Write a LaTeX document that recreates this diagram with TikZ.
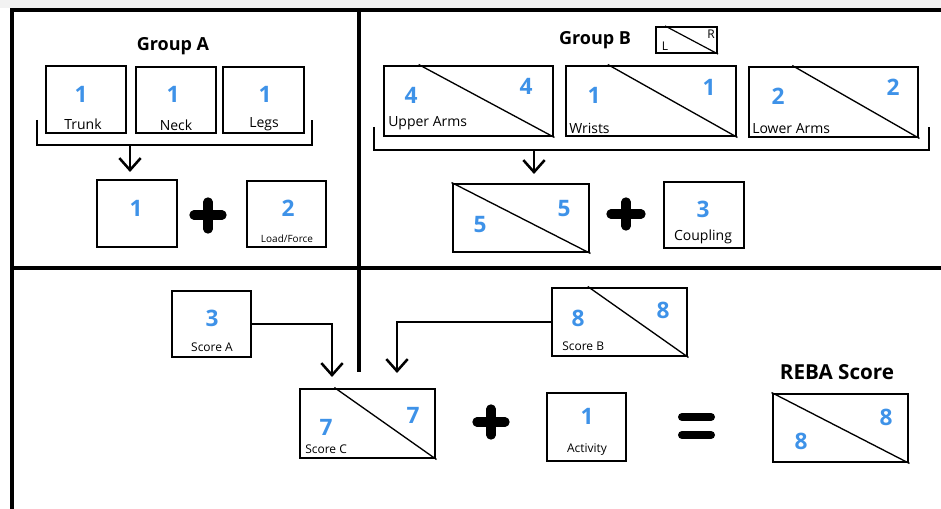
\documentclass[tikz,border=0pt]{standalone}
\usepackage{fontspec}
\setmainfont{Open Sans}
\usetikzlibrary{arrows.meta,fit,calc}
\definecolor{numblue}{RGB}{62,146,232}
\begin{document}
\begin{tikzpicture}[x=0.75pt,y=-0.75pt,
  box/.style={draw, line width=2.2pt, inner sep=0pt},
  num/.style={text=numblue, font=\fontsize{17}{17}\selectfont\bfseries, inner sep=0pt},
  lbl/.style={font=\fontsize{10.5}{11}\selectfont, inner sep=0pt},
  slbl/.style={font=\fontsize{9}{9}\selectfont, inner sep=0pt},
  tlbl/.style={font=\fontsize{7.5}{8}\selectfont, inner sep=0pt},
  title/.style={font=\fontsize{13.5}{14}\selectfont\bfseries, inner sep=0pt},
  diag/.style={line width=1pt},
  frameline/.style={line width=3.2pt},
  bracket/.style={line width=2.2pt},
  conn/.style={line width=1.9pt, -{Straight Barb[length=9pt,width=16pt]}},
  plussign/.style={line width=7pt, line cap=round}]
\path[use as bounding box] (0,0) rectangle (941,509);
\fill[gray!10] (0,0) rectangle (941,8);
% frame
\draw[frameline] (12,509) -- (12,10) -- (941,10);
\draw[frameline] (12,268) -- (941,268);
\draw[frameline] (359,10) -- (359,372);

% ---------- Group A ----------
\node[title] (ga) at (173,46) {Group A};
\node[box, fit={(46,66) (126,133)}] (trunk) {};
\node[box, fit={(136,67) (216,133)}] (neck) {};
\node[box, fit={(223,67) (304,133)}] (legs) {};
\node[num] (trunkn) at (81,94) {1};
\node[lbl] (trunkl) at (83,124) {Trunk};
\node[num] (neckn) at (173,94) {1};
\node[lbl] (neckl) at (176,125) {Neck};
\node[num] (legsn) at (265,94) {1};
\node[lbl] (legsl) at (264,124) {Legs};
\draw[bracket] (37,120) -- (37,145) -- (312,145) -- (312,120);
\coordinate (brA) at (130,145);
\node[box, fit={(97,180) (177,247)}] (boxA) {};
\node[num] (boxAn) at (136,208) {1};
\coordinate (boxAin) at (130,172);
\draw[conn] (brA) -- (boxAin);
\draw[plussign] (194,215) -- (222,215);
\draw[plussign] (208,202) -- (208,229);
\node[box, fit={(247,181) (326,247)}] (load) {};
\node[num] (loadn) at (288,208) {2};
\node[tlbl] (loadl) at (287,239) {Load/Force};

% ---------- Group B ----------
\node[title] (gb) at (595,40) {Group B};
\node[box, line width=1.6pt, fit={(656,27) (717,53)}] (leg) {};
\draw[diag, line width=0.9pt] ($(leg.north west)!0.16!(leg.north east)$) -- (leg.south east);
\node[slbl] (legL) at (665,46) {L};
\node[slbl] (legR) at (711,34) {R};

\node[box, fit={(384,66) (553,136)}] (ua) {};
\draw[diag] ($(ua.north west)!0.21!(ua.north east)$) -- (ua.south east);
\node[num] (ual) at (411,95) {4};
\node[num] (uar) at (526,86) {4};
\node[lbl, anchor=west] (ualb) at (388,123) {Upper Arms};

\node[box, fit={(566,66) (736,136)}] (wr) {};
\draw[diag] ($(wr.north west)!0.25!(wr.north east)$) -- (wr.south east);
\node[num] (wrl) at (594,95) {1};
\node[num] (wrr) at (709,87) {1};
\node[lbl, anchor=west] (wrlb) at (569,128) {Wrists};

\node[box, fit={(749,67) (918,137)}] (la) {};
\draw[diag] ($(la.north west)!0.26!(la.north east)$) -- (la.south east);
\node[num] (lal) at (778,96) {2};
\node[num] (lar) at (893,87) {2};
\node[lbl, anchor=west] (lalb) at (752,129) {Lower Arms};

\draw[bracket] (374,127) -- (374,150) -- (929,150) -- (929,127);
\coordinate (brB) at (534,150);
\node[box, fit={(453,184) (589,252)}] (boxB) {};
\draw[diag] (boxB.north west) -- (boxB.south east);
\node[num] (boxBl) at (480,225) {5};
\node[num] (boxBr) at (564,209) {5};
\coordinate (boxBin) at (534,174);
\draw[conn] (brB) -- (boxBin);
\draw[plussign] (611,214) -- (641,214);
\draw[plussign] (626,202) -- (626,226);
\node[box, fit={(664,182) (744,248)}] (coup) {};
\node[num] (coupn) at (703,209) {3};
\node[lbl] (coupl) at (703,237) {Coupling};

% ---------- Bottom ----------
\node[box, fit={(172,291) (251,357)}] (sa) {};
\node[num] (san) at (212,318) {3};
\node[slbl] (sal) at (212,347) {Score A};

\node[box, fit={(552,288) (687,356)}] (sb) {};
\draw[diag] ($(sb.north west)!0.27!(sb.north east)$) -- (sb.south east);
\node[num] (sbl) at (578,318) {8};
\node[num] (sbr) at (663,310) {8};
\node[slbl, anchor=west] (sblb) at (562,346) {Score B};

\node[box, fit={(300,389) (435,458)}] (sc) {};
\draw[diag] ($(sc.north west)!0.26!(sc.north east)$) -- (sc.south east);
\node[num] (scl) at (326,427) {7};
\node[num] (scr) at (413,415) {7};
\node[slbl, anchor=west] (sclb) at (305,449) {Score C};

\coordinate (scA) at (332,377);
\coordinate (scB) at (397,373);
\draw[conn] (sa.east) -| (scA);
\draw[conn] (sb.west) -| (scB);

\draw[plussign] (477,422) -- (505,422);
\draw[plussign] (491,409) -- (491,435);

\node[box, fit={(547,393) (626,461)}] (act) {};
\node[num] (actn) at (587,416) {1};
\node[slbl] (actl) at (587,450) {Activity};

\draw[plussign, line width=6pt] (682,417) -- (711,417);
\draw[plussign, line width=6pt] (682,435) -- (711,435);

\node[font=\fontsize{15.5}{16}\selectfont\bfseries, inner sep=0pt] (rebat) at (837,372) {REBA Score};
\node[box, fit={(773,394) (908,462)}] (reba) {};
\draw[diag] (reba.north west) -- (reba.south east);
\node[num] (rebar) at (886,417) {8};
\node[num] (rebal) at (801,441) {8};
\end{tikzpicture}
\end{document}
